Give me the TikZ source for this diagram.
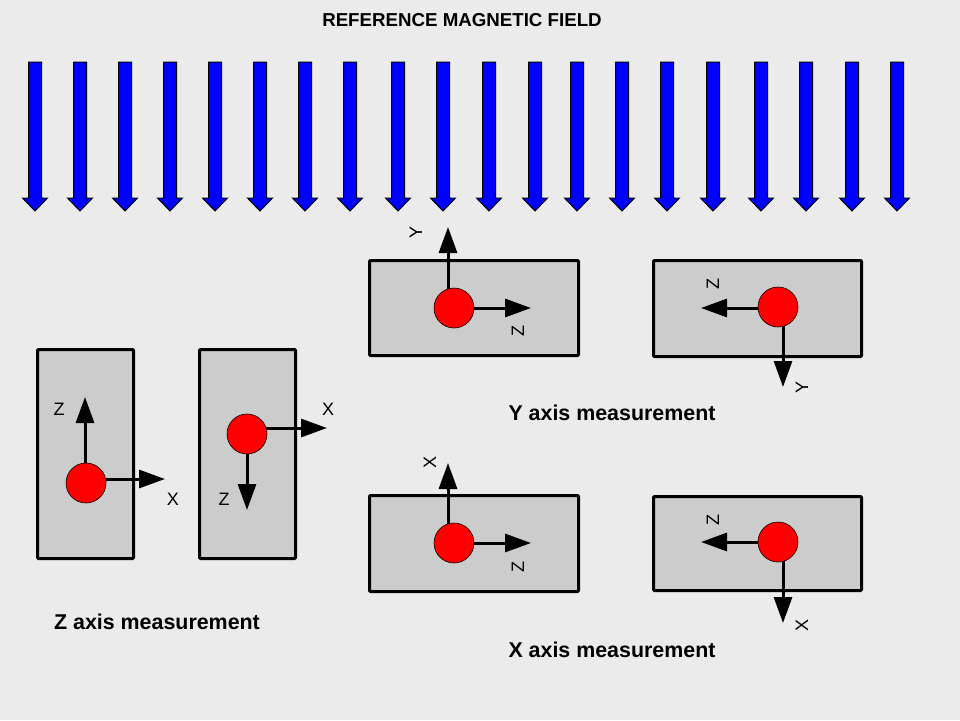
\documentclass[tikz,border=0pt]{standalone}
\usepackage{fontspec}
\setmainfont{Liberation Sans}
\usetikzlibrary{arrows.meta}
\pgfdeclarelayer{bgfill}
\pgfdeclarelayer{back}
\pgfdeclarelayer{mid}
\pgfsetlayers{bgfill,back,mid,main}
\definecolor{bgc}{RGB}{235,235,235}
\definecolor{boxc}{RGB}{204,204,204}
\definecolor{fieldblue}{RGB}{0,0,255}
\definecolor{dotred}{RGB}{255,0,0}
\tikzset{
  sensorbox/.style={draw=black, fill=boxc, line width=3pt, rounded corners=1pt, inner sep=0pt},
  dot/.style={circle, draw=black, line width=0.6pt, fill=dotred, minimum size=40pt, inner sep=0pt},
  axarrow/.style={line width=3pt, -{Triangle[length=26pt,width=18pt]}},
  axlabel/.style={font=\fontsize{18}{19}\selectfont, inner sep=0pt},
  caption/.style={font=\bfseries\fontsize{21.4}{24}\selectfont, inner sep=0pt},
  fieldarrow/.style={fill=fieldblue, draw=black, line width=1pt, line join=miter}
}
\begin{document}
\begin{tikzpicture}[x=1pt,y=-1pt]
\begin{pgfonlayer}{bgfill}
\fill[bgc] (0,0) rectangle (960,720);
\end{pgfonlayer}
\useasboundingbox (0,0) rectangle (960,720);

% title
\node[caption, font=\bfseries\fontsize{18.7}{20}\selectfont] (title) at (462,20) {REFERENCE MAGNETIC FIELD};

% field arrows
\foreach \x in {35,80,125,170,215,260,305,350,398,443,489,535,577,622,667,713,761,806,852,897}{
  \draw[fieldarrow] (\x-6.5,62) -- (\x+6.5,62) -- (\x+6.5,198) -- (\x+12.5,198) -- (\x,211)
    -- (\x-12.5,198) -- (\x-6.5,198) -- cycle;
}

% boxes
\begin{pgfonlayer}{back}
\node[sensorbox, minimum width=209pt, minimum height=95pt] (b1) at (474,308) {};
\node[sensorbox, minimum width=208pt, minimum height=96pt] (b2) at (757.5,308.5) {};
\node[sensorbox, minimum width=96pt, minimum height=209pt] (b3) at (85.5,454) {};
\node[sensorbox, minimum width=96pt, minimum height=209pt] (b4) at (247.5,454) {};
\node[sensorbox, minimum width=209pt, minimum height=96pt] (b5) at (474,543.5) {};
\node[sensorbox, minimum width=208pt, minimum height=94pt] (b6) at (757.5,543.5) {};
\end{pgfonlayer}

% dots
\node[dot] (c1) at (454,308) {};
\node[dot] (c2) at (778,307) {};
\node[dot] (c3) at (86,483) {};
\node[dot] (c4) at (247,434) {};
\node[dot] (c5) at (454,543) {};
\node[dot] (c6) at (778,542) {};

% arrow tips
\coordinate (t1u) at (448,227);
\coordinate (t1r) at (531,308);
\coordinate (t2l) at (701,308);
\coordinate (t2d) at (783,387);
\coordinate (t3u) at (85,397);
\coordinate (t3r) at (165,479);
\coordinate (t4r) at (327,428);
\coordinate (t4d) at (247,510);
\coordinate (t5u) at (448,463);
\coordinate (t5r) at (531,543);
\coordinate (t6l) at (701,542);
\coordinate (t6d) at (783,623);

\begin{pgfonlayer}{mid}
\draw[axarrow] (c1.center -| t1u) -- (t1u);
\draw[axarrow] (c1.center) -- (t1r);
\draw[axarrow] (c2.center |- t2l) -- (t2l);
\draw[axarrow] (c2.center -| t2d) -- (t2d);
\draw[axarrow] (c3.center -| t3u) -- (t3u);
\draw[axarrow] (c3.center |- t3r) -- (t3r);
\draw[axarrow] (c4.center |- t4r) -- (t4r);
\draw[axarrow] (c4.center) -- (t4d);
\draw[axarrow] (c5.center -| t5u) -- (t5u);
\draw[axarrow] (c5.center) -- (t5r);
\draw[axarrow] (c6.center) -- (t6l);
\draw[axarrow] (c6.center -| t6d) -- (t6d);
\end{pgfonlayer}

% axis labels
\node[axlabel, rotate=90] (l1a) at (416,232) {Y};
\node[axlabel, rotate=90] (l1b) at (518,331) {Z};
\node[axlabel, rotate=90] (l2a) at (713,284) {Z};
\node[axlabel, rotate=90] (l2b) at (802,387) {Y};
\node[axlabel] (l3a) at (59,409) {Z};
\node[axlabel] (l3b) at (173,499) {X};
\node[axlabel] (l4a) at (328,409) {X};
\node[axlabel] (l4b) at (224,499) {Z};
\node[axlabel, rotate=90] (l5a) at (430,462) {X};
\node[axlabel, rotate=90] (l5b) at (518,567) {Z};
\node[axlabel, rotate=90] (l6a) at (713,520) {Z};
\node[axlabel, rotate=90] (l6b) at (802,625) {X};

% captions
\node[caption] (capy) at (612,413) {Y axis measurement};
\node[caption] (capz) at (157,622) {Z axis measurement};
\node[caption] (capx) at (612,650) {X axis measurement};
\end{tikzpicture}
\end{document}
